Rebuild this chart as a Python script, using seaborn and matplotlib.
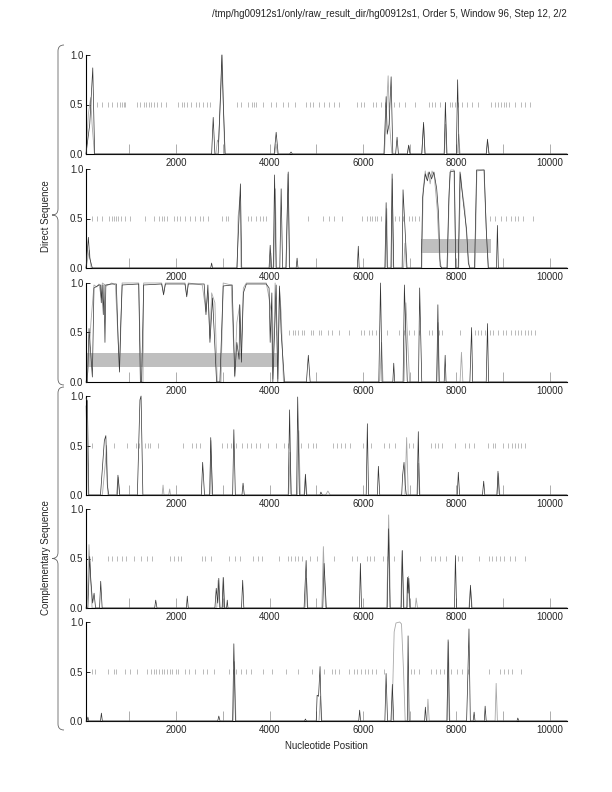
import matplotlib
matplotlib.use("Agg")
import matplotlib.pyplot as plt
from matplotlib.path import Path
from matplotlib.patches import PathPatch
import seaborn as sns

title = "/tmp/hg00912s1/only/raw_result_dir/hg00912s1, Order 5, Window 96, Step 12, 2/2"
x_start, x_end = 70, 10370

# ---- panel 1 (direct, frame 1)
p1_dark_x = [70, 150, 215, 255, 2760, 2794, 2830, 2900, 2950, 2979, 3010, 3050, 4100, 4142, 4185,
             4430, 4461, 4490, 6450, 6497, 6520, 6560, 6604, 6640, 6700, 6731, 6760, 6950, 6979, 7010,
             7260, 7298, 7330, 7740, 7766, 7800, 8000, 8028, 8060, 8640, 8667, 8700, 10370]
p1_dark_y = [0, 0.3, 0.87, 0, 0, 0.37, 0, 0, 0.6, 1.0, 0.5, 0, 0, 0.22, 0,
             0, 0.02, 0, 0, 0.58, 0.2, 0.3, 0.78, 0, 0, 0.17, 0, 0, 0.09, 0,
             0, 0.32, 0, 0, 0.52, 0, 0, 0.75, 0, 0, 0.15, 0, 0]
p1_light_x = [70, 120, 170, 200, 250, 2850, 2885, 2910, 2950, 2985, 3040, 4110, 4140, 4170,
              6460, 6540, 6570, 6620, 6950, 6985, 7010, 7260, 7300, 7330, 7740, 7770, 7790,
              8020, 8050, 8080, 8640, 8670, 8700, 10370]
p1_light_y = [0, 0.4, 0.57, 0.3, 0, 0, 0.14, 0.12, 0.55, 1.0, 0, 0, 0.1, 0,
              0, 0.79, 0.3, 0, 0, 0.08, 0, 0, 0.3, 0, 0, 0.3, 0,
              0, 0.2, 0, 0, 0.12, 0, 0]
p1_stops = [312, 418, 546, 631, 738, 794, 844, 879, 901, 1163, 1234, 1305, 1362, 1412, 1461, 1518,
            1589, 1675, 1788, 2050, 2121, 2171, 2242, 2313, 2426, 2497, 2568, 2653, 2724, 3306, 3384,
            3540, 3618, 3661, 3718, 3860, 4037, 4143, 4285, 4391, 4554, 4781, 4866, 4937, 5065, 5171,
            5263, 5384, 5490, 5880, 5951, 6022, 6214, 6285, 6377, 6470, 6554, 6660, 6767, 6909, 7122,
            7406, 7477, 7548, 7655, 7761, 7867, 7917, 7974, 8045, 8116, 8222, 8327, 8469, 8739, 8824,
            8895, 8952, 9023, 9072, 9129, 9249, 9391, 9463, 9569]

# ---- panel 2 (direct, frame 2)
p2_dark_x = [70, 121, 150, 205, 2740, 2760, 2780, 3300, 3377, 3405, 3990, 4014, 4040, 4080, 4108,
             4140, 4220, 4249, 4280, 4350, 4400, 4430, 4570, 4590, 4610, 5880, 5901, 5920, 6470,
             6497, 6520, 6600, 6625, 6660, 6840, 6859, 6944, 7250, 7278, 7335, 7380, 7420, 7470,
             7520, 7580, 7619, 7654, 7690, 7800, 7840, 7866, 7959, 7987, 8040, 8079, 8150, 8221,
             8257, 8292, 8390, 8434, 8597, 8640, 8683, 8860, 8880, 8900, 10370]
p2_dark_y = [0, 0.31, 0.1, 0, 0, 0.05, 0, 0, 0.85, 0, 0, 0.23, 0, 0, 0.94,
             0, 0, 0.8, 0, 0, 0.97, 0, 0, 0.1, 0, 0, 0.22, 0, 0,
             0.66, 0, 0, 0.95, 0, 0, 0.79, 0, 0, 0.71, 0.95, 0.88, 0.97, 0.9,
             0.97, 0.8, 0.55, 0.02, 0, 0, 0.7, 0.97, 0.98, 0, 0, 0.97, 0.66, 0.38,
             0.05, 0, 0, 0.99, 0.99, 0.4, 0, 0, 0.43, 0, 0]
p2_light_x = [70, 140, 180, 3310, 3328, 3370, 3390, 4000, 4030, 4050, 4090, 4125, 4150, 4360, 4395,
              4425, 6480, 6510, 6530, 6610, 6630, 6650, 6870, 6900, 6930, 7260, 7290, 7335, 7360,
              7400, 7440, 7480, 7530, 7590, 7640, 7680, 7810, 7850, 7880, 7950, 7990, 8050, 8090,
              8120, 8180, 8240, 8280, 8400, 8440, 8590, 8650, 8690, 10370]
p2_light_y = [0, 0.18, 0, 0, 0.52, 0.72, 0, 0, 0.15, 0, 0, 0.8, 0, 0, 0.95,
              0, 0, 0.6, 0, 0, 0.9, 0, 0, 0.25, 0, 0, 0.8, 0.98, 0.9,
              0.97, 0.85, 0.98, 0.92, 0.6, 0.1, 0, 0, 0.8, 0.99, 0.99, 0, 0, 0.95,
              0.8, 0.6, 0.2, 0, 0, 0.98, 0.99, 0.3, 0, 0]
p2_stops = [206, 312, 418, 560, 617, 667, 702, 752, 809, 915, 1021, 1341, 1518, 1625, 1696, 1731,
            1802, 1944, 2015, 2086, 2192, 2298, 2405, 2511, 2582, 2688, 2972, 3078, 3114, 3540, 3611,
            3718, 3789, 3860, 3931, 4817, 5136, 5263, 5384, 5561, 5973, 6093, 6143, 6199, 6256, 6306,
            6377, 6696, 6767, 6852, 6979, 7050, 7122, 7193, 8717, 8824, 8966, 9072, 9179, 9249, 9320,
            9427, 9640]

# ---- panel 3 (direct, frame 3)
p3_dark_x = [70, 99, 135, 206, 241, 348, 380, 397, 415, 440, 455, 476, 495, 620, 720, 760, 787,
             815, 844, 1199, 1234, 1260, 1305, 1690, 1731, 1770, 2190, 2227, 2260, 2600, 2639,
             2680, 2724, 2780, 2866, 2937, 3008, 3200, 3256, 3300, 3348, 3362, 3398, 3440, 3504,
             3930, 3990, 4014, 4050, 4071, 4142, 4178, 4213, 4249, 4320,
             4790, 4831, 4870, 6340, 6377, 6410, 6640, 6660, 6680, 6860, 6888, 6950, 7190, 7215,
             7260, 7580, 7605, 7630, 7740, 7761, 7780, 8290, 8327, 8350, 8640, 8668, 8690, 10370]
p3_dark_y = [0, 0, 0.54, 0.05, 0.95, 0.98, 0.98, 0.8, 0.98, 0.68, 0.98, 0.4, 0.98, 0.99, 0.99, 0.4, 0.1,
             0.6, 0.98, 0.99, 0, 0, 0.98, 0.99, 0.88, 0.99, 0.99, 0.86, 0.99, 0.99, 0.68,
             0.98, 0.4, 0.85, 0, 0, 0.97, 0.98, 0.06, 0.4, 0.23, 0.78, 0.2, 0.9, 0.99,
             0.99, 0.95, 0.4, 0.9, 0, 0.98, 0, 0.97, 0.5, 0,
             0, 0.27, 0, 0, 1.0, 0, 0, 0.19, 0, 0, 0.98, 0, 0, 0.95,
             0, 0, 0.78, 0, 0, 0.27, 0, 0, 0.55, 0, 0, 0.59, 0, 0]
p3_light_x = [70, 110, 175, 241, 300, 348, 397, 420, 511, 620, 700, 750, 787, 820, 844, 1199, 1249,
              1290, 1305, 1690, 1731, 1770, 2190, 2227, 2260, 2560, 2639, 2680, 2724, 2760, 2830,
              2880, 2960, 3008, 3180, 3256, 3300, 3362, 3398, 3440, 3504, 3930, 3990, 4036, 4071,
              4120, 4178, 4213, 4249, 4299,
              6360, 6400, 6430, 6880, 6920, 6960, 7000, 7580, 7610, 7640, 8080, 8110, 8140, 10370]
p3_light_y = [0, 0.1, 0.6, 0.98, 0.96, 0.99, 0.85, 1.0, 0.97, 1.0, 0.98, 0.5, 0.13, 0.6, 1.0, 1.0, 0,
              0, 1.0, 1.0, 0.9, 1.0, 1.0, 0.88, 1.0, 0.98, 0.71, 0.9, 0.44, 0.9, 0.8,
              0, 0, 1.0, 0.98, 0.05, 0.6, 0.78, 0.35, 0.95, 1.0, 1.0, 0.85, 0.71, 0.03,
              1.0, 0.03, 0.95, 0.7, 0,
              0, 0.4, 0, 0, 0.8, 0.4, 0, 0, 0.6, 0, 0, 0.3, 0, 0]
p3_stops = [4143, 4427, 4498, 4554, 4604, 4696, 4746, 4887, 4937, 5065, 5100, 5242, 5348, 5490,
            5703, 5951, 6022, 6129, 6199, 6270, 6519, 6767, 6873, 6979, 7086, 7193, 7406, 7477,
            7619, 7690, 8080, 8399, 8469, 8526, 8611, 8717, 8788, 8895, 9001, 9072, 9179, 9249,
            9320, 9391, 9462, 9533, 9604, 9675]

# ---- panel 4 (complementary, frame 1)
p4_dark_x = [70, 100, 130, 380, 463, 495, 526, 558, 740, 754, 793, 1170, 1225, 1249, 1288, 2540,
             2568, 2608, 2720, 2741, 2781, 3210, 3236, 3268, 3410, 3433, 3460, 4400, 4430, 4460,
             4580, 4603, 4640, 4750, 4768, 4790, 5080, 5100, 5130, 6070, 6095, 6120, 6310, 6331,
             6360, 6830, 6850, 6880, 6905, 6930, 7160, 7186, 7210, 8020, 8043, 8070, 8560, 8586,
             8610, 8870, 8892, 8920, 10370]
p4_dark_y = [0.98, 0.95, 0, 0, 0.55, 0.6, 0.1, 0, 0, 0.2, 0, 0, 0.96, 1.0, 0, 0,
             0.33, 0, 0, 0.58, 0, 0, 0.66, 0, 0, 0.12, 0, 0, 0.86, 0,
             0, 0.99, 0, 0, 0.21, 0, 0, 0.03, 0, 0, 0.72, 0, 0, 0.29,
             0, 0, 0.2, 0.33, 0.1, 0, 0, 0.64, 0, 0, 0.23, 0, 0, 0.14,
             0, 0, 0.24, 0, 0]
p4_light_x = [70, 90, 120, 420, 480, 510, 540, 720, 760, 790, 1700, 1720, 1740, 1840, 1862, 1880,
              2720, 2745, 2770, 4410, 4440, 4470, 4600, 4627, 4660, 4740, 4770, 4800, 5200, 5250,
              5300, 6900, 6936, 6970, 7170, 7195, 7220, 8870, 8900, 8930, 10370]
p4_light_y = [0.9, 0.6, 0, 0, 0.3, 0.5, 0, 0, 0.18, 0, 0, 0.1, 0, 0, 0.06, 0,
              0, 0.55, 0, 0, 0.43, 0, 0, 0.65, 0, 0, 0.2, 0, 0, 0.04,
              0, 0, 0.58, 0, 0, 0.32, 0, 0, 0.22, 0, 0]
p4_stops = [189, 660, 950, 1131, 1210, 1327, 1390, 1445, 1602, 2152, 2349, 2427, 2506, 2977, 3079,
            3173, 3291, 3409, 3527, 3605, 3700, 3802, 3959, 4140, 4312, 4391, 4666, 4823, 4925,
            5004, 5349, 5451, 5530, 5609, 5726, 6001, 6080, 6182, 6449, 6551, 6685, 6983, 7077,
            7454, 7533, 7612, 7690, 7965, 8185, 8279, 8381, 8672, 8790, 8829, 9010, 9104, 9183,
            9261, 9324, 9379, 9481]

# ---- panel 5 (complementary, frame 2)
p5_dark_x = [70, 110, 149, 173, 212, 243, 275, 360, 385, 416, 1540, 1563, 1590, 2220, 2239, 2260,
             2830, 2859, 2890, 2914, 2940, 2985, 3008, 3035, 3080, 3095, 3110, 3400, 3425, 3450,
             4740, 4784, 4810, 5140, 5169, 5216, 5925, 5946, 5970, 6520, 6551, 6580, 6820, 6842,
             6870, 6940, 6952, 6968, 6983, 7010, 7960, 7981, 8005, 8280, 8303, 8330, 10370]
p5_dark_y = [0, 0, 0.52, 0.28, 0.05, 0.15, 0, 0, 0.27, 0, 0, 0.08, 0, 0, 0.12, 0,
             0, 0.2, 0.05, 0.3, 0, 0, 0.31, 0, 0, 0.08, 0, 0, 0.28, 0,
             0, 0.48, 0, 0, 0.45, 0, 0, 0.45, 0, 0, 0.8, 0, 0, 0.58,
             0, 0, 0.31, 0.15, 0.3, 0, 0, 0.53, 0, 0, 0.23, 0, 0]
p5_light_x = [70, 100, 134, 170, 200, 2870, 2900, 2930, 2990, 3015, 3040, 4760, 4790, 4820, 5120,
              5153, 5200, 6510, 6551, 6590, 6810, 6842, 6880, 6950, 6975, 7000, 7120, 7140, 7170,
              8270, 8303, 8340, 10370]
p5_light_y = [0, 0.1, 0.64, 0.3, 0, 0, 0.28, 0, 0, 0.3, 0, 0, 0.3, 0, 0,
              0.62, 0, 0, 0.94, 0, 0, 0.58, 0, 0, 0.32, 0, 0, 0.1, 0,
              0, 0.2, 0, 0]
p5_stops = [189, 542, 636, 738, 840, 935, 1092, 1249, 1367, 1485, 1877, 1956, 2034, 2113, 2545,
            2624, 2741, 3134, 3252, 3370, 3645, 3762, 3841, 4195, 4391, 4470, 4548, 4611, 4705,
            4862, 5019, 5381, 5766, 5883, 6080, 6158, 6237, 6433, 6512, 6669, 7219, 7454, 7533,
            7651, 7769, 8043, 8122, 8476, 8696, 8774, 8853, 8931, 9026, 9143, 9261, 9481]

# ---- panel 6 (complementary, frame 3)
p6_dark_x = [70, 90, 110, 130, 380, 400, 420, 2890, 2914, 2940, 3210, 3236, 3270, 4750, 4768, 4790,
             5000, 5019, 5050, 5082, 5110, 5910, 5930, 5950, 6470, 6496, 6527, 6600, 6630, 6660,
             6950, 6967, 6990, 7320, 7337, 7360, 7800, 7824, 7850, 8220, 8240, 8271, 8300, 8360,
             8381, 8400, 8600, 8617, 8640, 9300, 9316, 9340, 10370]
p6_dark_y = [0, 0, 0.04, 0, 0, 0.08, 0, 0, 0.05, 0, 0, 0.78, 0, 0, 0.02, 0,
             0, 0.26, 0.25, 0.55, 0, 0, 0.11, 0, 0, 0.48, 0, 0, 0.37, 0,
             0, 0.86, 0, 0, 0.14, 0, 0, 0.82, 0, 0, 0.34, 0.93, 0, 0,
             0.09, 0, 0, 0.15, 0, 0, 0.03, 0, 0]
p6_light_x = [70, 3220, 3250, 3280, 5060, 5090, 5120, 6620, 6669, 6708, 6787, 6826, 6870, 6905,
              7370, 7392, 7420, 7800, 7830, 7860, 8830, 8853, 8880, 10370]
p6_light_y = [0, 0, 0.6, 0, 0, 0.25, 0, 0, 0.9, 0.99, 1.0, 0.98, 0.5, 0,
              0, 0.22, 0, 0, 0.8, 0, 0, 0.38, 0, 0]
p6_stops = [189, 267, 542, 660, 715, 895, 1013, 1155, 1367, 1469, 1524, 1579, 1642, 1689, 1736,
            1799, 1862, 1917, 1995, 2034, 2192, 2270, 2396, 2584, 2663, 2804, 3134, 3228, 3291,
            3386, 3488, 3605, 3865, 4061, 4352, 4611, 4901, 5176, 5333, 5412, 5491, 5711, 5805,
            5883, 5962, 6041, 6119, 6198, 6276, 6457, 7022, 7101, 7195, 7454, 7572, 7651, 7729,
            7886, 8004, 8122, 8240, 8696, 8931, 9026, 9104, 9183, 9379]

# predicted genes (panel index, start, end)
gene_panel = [1, 2]
gene_start = [7250, 99]
gene_end = [8753, 4160]

panels = [
    (p1_dark_x, p1_dark_y, p1_light_x, p1_light_y, p1_stops),
    (p2_dark_x, p2_dark_y, p2_light_x, p2_light_y, p2_stops),
    (p3_dark_x, p3_dark_y, p3_light_x, p3_light_y, p3_stops),
    (p4_dark_x, p4_dark_y, p4_light_x, p4_light_y, p4_stops),
    (p5_dark_x, p5_dark_y, p5_light_x, p5_light_y, p5_stops),
    (p6_dark_x, p6_dark_y, p6_light_x, p6_light_y, p6_stops),
]

sns.set_theme(style="white")
plt.rcParams['font.family'] = ['Liberation Sans', 'DejaVu Sans']

W, H = 612, 792
fig = plt.figure(figsize=(W / 100, H / 100), dpi=100)
panel_tops = [55, 169, 283, 396, 509, 622]
panel_h = 99
left_px, right_px = 86, 567

for i, (dx, dy, lx, ly, stops) in enumerate(panels):
    ax = fig.add_axes([left_px / W, 1 - (panel_tops[i] + panel_h) / H,
                       (right_px - left_px) / W, panel_h / H])
    for g, s, e in zip(gene_panel, gene_start, gene_end):
        if g == i:
            ax.fill_between([s, e], 0.15, 0.29, color='#bfbfbf', lw=0, zorder=1)
    sns.lineplot(x=lx, y=ly, ax=ax, color='#a8a8a8', linewidth=0.6,
                 estimator=None, sort=False, zorder=2)
    sns.lineplot(x=dx, y=dy, ax=ax, color='#333333', linewidth=0.5,
                 estimator=None, sort=False, zorder=3)
    for ln in ax.lines:
        ln.set_clip_on(False)
    ax.vlines(stops, 0.475, 0.525, color='#a0a0a0', lw=0.5, zorder=2)

    ax.set_xlim(x_start, x_end)
    ax.set_ylim(0, 1)
    ax.set_xlabel('')
    ax.set_ylabel('')
    for side in ['top', 'right']:
        ax.spines[side].set_visible(False)
    for side in ['left', 'bottom']:
        ax.spines[side].set_color('black')
        ax.spines[side].set_linewidth(0.8)
    ax.set_xticks(range(2000, 10001, 2000))
    ax.set_xticks(range(1000, 10001, 2000), minor=True)
    ax.set_xticklabels([str(v) for v in range(2000, 10001, 2000)])
    ax.tick_params(axis='x', which='both', direction='in', length=7, width=0.6,
                   color='#a0a0a0', labelsize=7, pad=3, bottom=True)
    ax.set_yticks([0, 0.5, 1.0])
    ax.set_yticklabels(['0.0', '0.5', '1.0'])
    ax.tick_params(axis='y', direction='in', length=3, width=0.6, color='black',
                   labelsize=7, pad=2, left=True)
    ax.patch.set_alpha(0)


def brace(top, bottom, x=58, tip=52, curl=64, r=6):
    mid = (top + bottom) / 2
    pts = [(curl, top), (x, top), (x, top + r),
           (x, mid - r), (x, mid), (tip, mid),
           (x, mid), (x, mid + r),
           (x, bottom - r), (x, bottom), (curl, bottom)]
    codes = [Path.MOVETO, Path.CURVE3, Path.CURVE3,
             Path.LINETO, Path.CURVE3, Path.CURVE3,
             Path.CURVE3, Path.CURVE3,
             Path.LINETO, Path.CURVE3, Path.CURVE3]
    verts = [(px / W, 1 - py / H) for px, py in pts]
    fig.add_artist(PathPatch(Path(verts, codes), transform=fig.transFigure,
                             fill=False, edgecolor='#666666', lw=0.6))


brace(45, 385)
brace(387, 730)

fig.text(567 / W, 1 - 14 / H, title, ha='right', va='center', fontsize=7)
fig.text(326 / W, 1 - 746 / H, 'Nucleotide Position', ha='center', va='center', fontsize=7)
fig.text(46 / W, 1 - 216 / H, 'Direct Sequence', rotation=90, ha='center', va='center', fontsize=7)
fig.text(46 / W, 1 - 558 / H, 'Complementary Sequence', rotation=90, ha='center', va='center',
         fontsize=7)

fig.savefig('out.png', dpi=100)
